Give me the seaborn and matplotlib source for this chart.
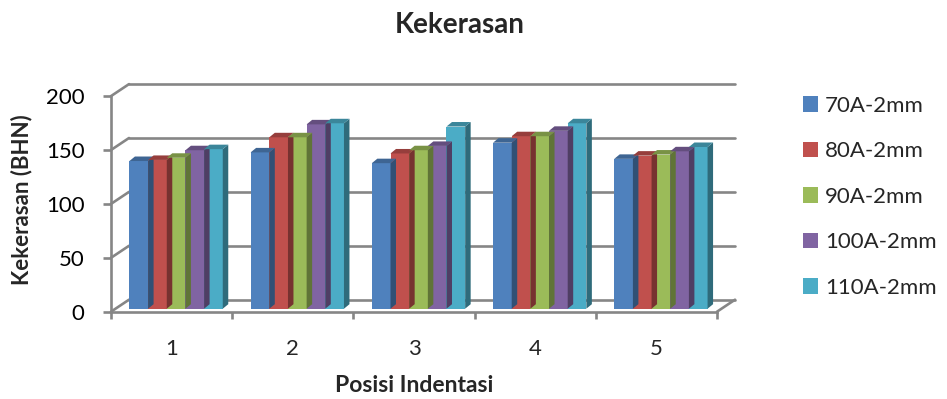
import matplotlib
matplotlib.use('Agg')
import matplotlib.pyplot as plt
import matplotlib.transforms as mtransforms
from matplotlib.patches import Polygon
import numpy as np
import pandas as pd
import seaborn as sns

# values (BHN)
posisi = ['1', '2', '3', '4', '5']
seri = ['70A-2mm', '80A-2mm', '90A-2mm', '100A-2mm', '110A-2mm']
v70 = [137, 145, 135, 154, 139]
v80 = [138, 159, 144, 160, 142]
v90 = [140, 159, 147, 160, 143]
v100 = [147, 171, 151, 165, 146]
v110 = [148, 172, 169, 172, 150]
colors = ['#4F81BD', '#C0504D', '#9BBB59', '#8064A2', '#4BACC6']
yticks = [0, 50, 100, 150, 200]

rows = []
for name, vals in zip(seri, [v70, v80, v90, v100, v110]):
    for p, v in zip(posisi, vals):
        rows.append({'Posisi': p, 'Kekerasan': v, 'Seri': name})
df = pd.DataFrame(rows)

sns.set_style('white')
plt.rcParams['font.family'] = ['Lato', 'DejaVu Sans']
grid_col = '#868686'
DPI = 100

fig = plt.figure(figsize=(9.47, 3.99), dpi=DPI)
ax = fig.add_axes([111 / 947, 1 - 311.7 / 399, 606 / 947, 215.6 / 399])

sns.barplot(data=df, x='Posisi', y='Kekerasan', hue='Seri', palette=colors,
            width=0.77, gap=0, saturation=1, linewidth=0, ax=ax, zorder=3)
ax.set_xlim(-0.5, 4.5)
ax.set_ylim(0, 200)

leg = ax.get_legend()
handles = leg.legend_handles
labels = [t.get_text() for t in leg.get_texts()]
leg.remove()

# pixel -> data conversion
px_x = 606 / 5.0
px_y = 215.6 / 200.0

# back wall offset (depth of the floor)
wall_dx, wall_dy = 18 / px_x, 12 / px_y
for v in yticks:
    ax.plot([-0.5 + wall_dx, 4.5 + wall_dx], [v + wall_dy, v + wall_dy],
            color=grid_col, lw=1.9, clip_on=False, zorder=1)
    ax.plot([-0.5, -0.5 + wall_dx], [v, v + wall_dy],
            color=grid_col, lw=1.9, clip_on=False, zorder=1)
ax.plot([4.5, 4.5 + wall_dx], [0, wall_dy], color=grid_col, lw=1.9,
        clip_on=False, zorder=1)

# pseudo 3D bars: shift bars a bit back, add top and side faces
shift = mtransforms.ScaledTranslation(4.5 / DPI, 3 / DPI, fig.dpi_scale_trans)
bar_tr = ax.transData + shift
dd_x, dd_y = 5.5 / px_x, 4.5 / px_y
for cont, col in zip(ax.containers, colors):
    rgb = np.array(matplotlib.colors.to_rgb(col))
    for bar in cont:
        bar.set_transform(bar_tr)
        x0 = bar.get_x()
        w = bar.get_width()
        h = bar.get_height()
        side = Polygon([(x0 + w, 0), (x0 + w + dd_x, dd_y),
                        (x0 + w + dd_x, h + dd_y), (x0 + w, h)],
                       closed=True, facecolor=rgb * 0.62, lw=0,
                       transform=bar_tr, zorder=3)
        top = Polygon([(x0, h), (x0 + dd_x, h + dd_y),
                       (x0 + w + dd_x, h + dd_y), (x0 + w, h)],
                      closed=True, facecolor=rgb * 0.78, lw=0,
                      transform=bar_tr, zorder=3)
        ax.add_patch(side)
        ax.add_patch(top)

for s in ['top', 'right']:
    ax.spines[s].set_visible(False)
for s in ['left', 'bottom']:
    ax.spines[s].set_color(grid_col)
    ax.spines[s].set_linewidth(1.9)
    ax.spines[s].set_zorder(2)

ax.set_yticks(yticks)
ax.set_xticks(range(5))
ax.set_xticklabels(posisi)
ax.set_xticks(np.arange(-0.5, 5, 1), minor=True)
ax.tick_params(axis='y', which='major', length=6, width=1.9, color=grid_col,
               labelsize=16, pad=13, left=True, labelcolor='black')
ax.tick_params(axis='x', which='major', length=0, labelsize=16, pad=20)
ax.tick_params(axis='x', which='minor', length=5, width=1.9,
               color=grid_col, bottom=True)
ax.set_xlabel('')
ax.set_ylabel('')
ax.grid(False)

fig.text(460 / 947, 1 - 25 / 399, 'Kekerasan', ha='center', va='center',
         fontsize=20, fontweight='bold')
fig.text(414 / 947, 1 - 385 / 399, 'Posisi Indentasi', ha='center',
         va='center', fontsize=16.5, fontweight='bold')
fig.text(22 / 947, 1 - 200 / 399, 'Kekerasan (BHN)', ha='center',
         va='center', rotation=90, fontsize=16, fontweight='bold')

fig.legend(handles, labels, loc='center left',
           bbox_to_anchor=(803 / 947, 1 - 196.8 / 399), frameon=False,
           fontsize=16, handlelength=0.68, handleheight=0.68,
           handletextpad=0.3, labelspacing=1.15, borderpad=0,
           borderaxespad=0)

fig.savefig('out.png', dpi=DPI)
